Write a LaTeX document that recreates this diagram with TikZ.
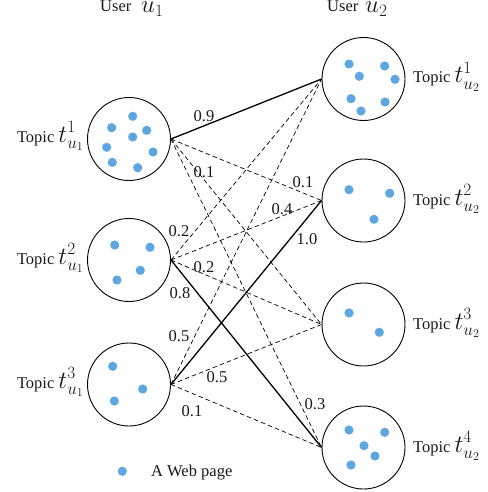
\documentclass[tikz,border=0pt]{standalone}
\usepackage{fontspec}
\setmainfont{Liberation Serif}
\definecolor{dotc}{RGB}{93,166,224}
\definecolor{txt}{RGB}{25,25,25}
\newcommand{\mtopic}[1]{{\fontsize{23}{27}\selectfont$#1$}}
\newcommand{\muser}[1]{{\fontsize{25}{29}\selectfont$#1$}}
\begin{document}
\begin{tikzpicture}[x=1pt,y=-1pt,
  topic/.style={circle,draw,line width=0.9pt,minimum size=83pt,inner sep=0pt},
  solidedge/.style={line width=1.3pt},
  dashedge/.style={line width=0.7pt,dash pattern=on 4.5pt off 3pt},
  lab/.style={font=\fontsize{16.5}{19}\selectfont,text=txt,inner sep=0pt},
  wlab/.style={font=\fontsize{16.5}{19}\selectfont,text=txt,inner sep=0pt},
  dot/.style={fill=dotc}]
\useasboundingbox (0,0) rectangle (487,492);

% titles
\node[lab,anchor=base west] (tu1) at (100,12) {User};
\node[anchor=base west,inner sep=0pt,text=txt] (u1) at (141,13) {\muser{u_1}};
\node[lab,anchor=base west] (tu2) at (327,12) {User};
\node[anchor=base west,inner sep=0pt,text=txt] (u2) at (365,13) {\muser{u_2}};

% topic circles
\node[topic] (L1) at (129,139) {};
\node[topic] (L2) at (129,260) {};
\node[topic] (L3) at (129,384.5) {};
\node[topic] (R1) at (363.5,79) {};
\node[topic] (R2) at (363.5,200.5) {};
\node[topic] (R3) at (363.5,324.5) {};
\node[topic] (R4) at (363.5,447.5) {};

% topic labels
\node[lab,anchor=base east] (lt1) at (84,142) {Topic \mtopic{t^1_{u_1}}};
\node[lab,anchor=base east] (lt2) at (84,264) {Topic \mtopic{t^2_{u_1}}};
\node[lab,anchor=base east] (lt3) at (84,388) {Topic \mtopic{t^3_{u_1}}};
\node[lab,anchor=base west] (rt1) at (413,83) {Topic \mtopic{t^1_{u_2}}};
\node[lab,anchor=base west] (rt2) at (413,205) {Topic \mtopic{t^2_{u_2}}};
\node[lab,anchor=base west] (rt3) at (413,329) {Topic \mtopic{t^3_{u_2}}};
\node[lab,anchor=base west] (rt4) at (413,452) {Topic \mtopic{t^4_{u_2}}};

% dots
\foreach \p in {(132.7,116.3),(111.7,127.7),(146.7,130.3),(132.7,137),(106.7,147.3),(153,152),(112.3,162.3),(137.7,167.7),
  (114.7,245),(150,247.3),(140.3,270.3),(117,280),
  (112.7,366.3),(142.7,389),(114.3,401),
  (349,64),(384.7,66),(359.3,76.3),(395,79.3),(351,98.7),(385,102),(361,111),
  (349,189.7),(389.7,193.3),(374,219.3),
  (349,313),(379.3,332.3),
  (349,430),(384.7,432.3),(364,445.7),(375,456),(351,465)}
  \fill[dot] \p circle (4.6);

% edges from L1
\draw[solidedge] (L1.east) -- (R1.west);
\draw[dashedge] (L1.east) -- (R2.west);
\draw[dashedge] (L1.east) -- (R3.west);
\draw[dashedge] (L1.east) -- (R4.west);
% edges from L2
\draw[dashedge] (L2.east) -- (R1.west);
\draw[dashedge] (L2.east) -- (R2.west);
\draw[dashedge] (L2.east) -- (R3.west);
\draw[solidedge] (L2.east) -- (R4.west);
% edges from L3
\draw[dashedge] (L3.east) -- (R1.west);
\draw[solidedge] (L3.east) -- (R2.west);
\draw[dashedge] (L3.east) -- (R3.west);
\draw[dashedge] (L3.east) -- (R4.west);

% edge labels
\node[wlab] (w11) at (204,116) {0.9};
\node[wlab] (w12) at (303,182) {0.1};
\node[wlab] (w13) at (204,172) {0.1};
\node[wlab] (w14) at (315,404) {0.3};
\node[wlab] (w21) at (179,231) {0.2};
\node[wlab] (w22) at (282,209) {0.4};
\node[wlab] (w23) at (204,267) {0.2};
\node[wlab] (w24) at (180,293) {0.8};
\node[wlab] (w31) at (179,336) {0.5};
\node[wlab] (w32) at (307,239) {1.0};
\node[wlab] (w33) at (217,377) {0.5};
\node[wlab] (w34) at (192,411) {0.1};

% legend
\fill[dot] (122.3,471.3) circle (4.6);
\node[lab,anchor=base west] (leg) at (151,476) {A Web page};
\end{tikzpicture}
\end{document}
